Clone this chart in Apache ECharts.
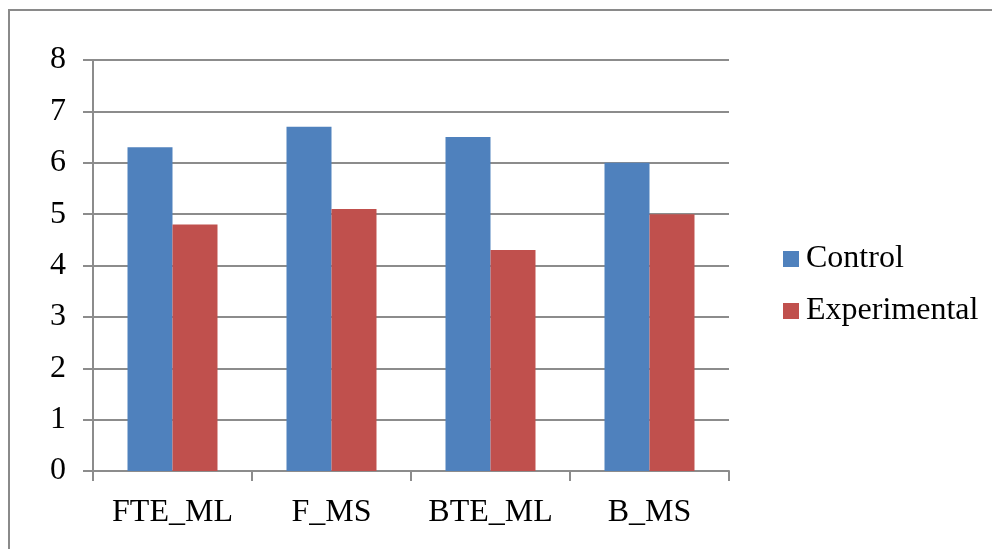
<!DOCTYPE html>
<html>
<head>
<meta charset="utf-8">
<script src="https://cdn.jsdelivr.net/npm/echarts@6/dist/echarts.min.js"></script>
<style>
  html, body { margin: 0; padding: 0; background: #fff; }
  #chart { width: 992px; height: 549px; }
</style>
</head>
<body>
<div id="chart"></div>
<script>
var categories = ['FTE_ML', 'F_MS', 'BTE_ML', 'B_MS']
var controlData = [6.3, 6.7, 6.5, 6.0]
var experimentalData = [4.8, 5.1, 4.3, 5.0]
var yTicks = [0, 1, 2, 3, 4, 5, 6, 7, 8]

var myChart = echarts.init(document.getElementById('chart'))
var font = 'Liberation Serif, Times New Roman, serif'

var option = {
  animation: false,
  backgroundColor: '#fff',
  textStyle: { fontFamily: font },
  graphic: [{
    // outer frame, only top and left edges visible
    type: 'rect',
    shape: { x: 9, y: 10, width: 1200, height: 800 },
    style: { fill: 'none', stroke: '#8a8a8a', lineWidth: 2 }
  }],
  legend: {
    orient: 'vertical',
    left: 783,
    top: 243,
    padding: 0,
    itemWidth: 16,
    itemHeight: 16,
    itemGap: 20,
    icon: 'rect',
    textStyle: { fontFamily: font, fontSize: 32, color: '#000', padding: [0, 0, 0, 2] },
    data: ['Control', 'Experimental']
  },
  grid: {
    left: 93,
    top: 60,
    width: 636,
    height: 411
  },
  xAxis: {
    type: 'category',
    data: categories,
    axisLine: { lineStyle: { color: '#8c8c8c', width: 2 } },
    axisTick: { show: true, interval: 0, length: 10, lineStyle: { color: '#8c8c8c', width: 2 } },
    axisLabel: { interval: 0, fontFamily: font, fontSize: 32, color: '#000', margin: 26 },
    splitLine: { show: false }
  },
  yAxis: {
    type: 'value',
    min: yTicks[0],
    max: yTicks[yTicks.length - 1],
    interval: 1,
    axisLine: { show: true, lineStyle: { color: '#8c8c8c', width: 2 } },
    axisTick: { show: true, length: 10, lineStyle: { color: '#8c8c8c', width: 2 } },
    axisLabel: { fontFamily: font, fontSize: 32, color: '#000', margin: 27 },
    splitLine: { show: true, lineStyle: { color: '#8c8c8c', width: 2 } }
  },
  series: [{
    name: 'Control',
    type: 'bar',
    data: controlData,
    barGap: '0%',
    barCategoryGap: '43.4%',
    itemStyle: { color: '#4f81bd' }
  }, {
    name: 'Experimental',
    type: 'bar',
    data: experimentalData,
    itemStyle: { color: '#c0504d' }
  }]
}

myChart.setOption(option)
</script>
</body>
</html>
